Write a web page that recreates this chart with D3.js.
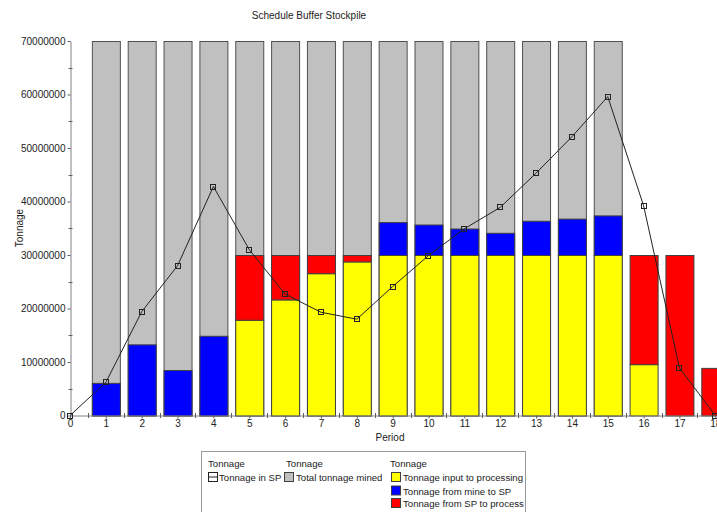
<!DOCTYPE html>
<html><head><meta charset="utf-8">
<script src="https://cdn.jsdelivr.net/npm/d3@7"></script>
<style>
html,body{margin:0;padding:0;background:#fff;overflow:hidden;}
text{font-family:"Liberation Sans",Arial,sans-serif;font-size:10px;fill:#222;}
</style></head>
<body>
<svg id="chart" width="717" height="512"></svg>
<script>
// ---- data ----
const periods = [0,1,2,3,4,5,6,7,8,9,10,11,12,13,14,15,16,17,18];
const barPeriods = [1,2,3,4,5,6,7,8,9,10,11,12,13,14,15,16,17,18];
const totalMined = [70e6,70e6,70e6,70e6,70e6,70e6,70e6,70e6,70e6,70e6,70e6,70e6,70e6,70e6,70e6,0,0,0];
const inputToProcessing = [0,0,0,0,17.9e6,21.7e6,26.6e6,28.8e6,30e6,30e6,30e6,30e6,30e6,30e6,30e6,9.6e6,0,0];
const mineToSP = [6.1e6,13.3e6,8.5e6,14.9e6,0,0,0,0,6.15e6,5.7e6,4.95e6,4.15e6,6.4e6,6.8e6,7.4e6,0,0,0];
const spToProcess = [0,0,0,0,12.1e6,8.3e6,3.4e6,1.2e6,0,0,0,0,0,0,0,20.4e6,30e6,8.9e6];
const tonnageInSP = [0,6.2e6,19.4e6,28.0e6,42.8e6,31.0e6,22.7e6,19.3e6,18.0e6,24.1e6,29.9e6,34.9e6,38.9e6,45.3e6,52.1e6,59.6e6,39.2e6,8.9e6,0];
const yTicks = [0,10e6,20e6,30e6,40e6,50e6,60e6,70e6];
const yMinorTicks = [5e6,15e6,25e6,35e6,45e6,55e6,65e6];

const svg = d3.select("#chart");
const x = d3.scaleLinear().domain([0,18]).range([70,715.3]);
const y = d3.scaleLinear().domain([0,70e6]).range([415.5,41]);
const bw = 28;

const rows = barPeriods.map((p,i)=>({period:p,total:totalMined[i],input:inputToProcessing[i],mine:mineToSP[i],sp:spToProcess[i]}));

// title
svg.append("text").attr("x",309).attr("y",19).attr("text-anchor","middle").text("Schedule Buffer Stockpile");

// gray total bars
svg.append("g").selectAll("rect").data(rows.filter(d=>d.total>0)).join("rect")
  .attr("x",d=>x(d.period)-bw/2+0.5).attr("width",bw)
  .attr("y",d=>y(d.total)+0.5).attr("height",d=>y(0)-y(d.total))
  .attr("fill","#c0c0c0").attr("stroke","#505050").attr("stroke-width",1);

// stacked bars
const keys = ["input","mine","sp"];
const colors = {input:"#ffff00",mine:"#0000ff",sp:"#ff0000"};
const stack = d3.stack().keys(keys)(rows);
stack.forEach(layer=>{
  svg.append("g").selectAll("rect").data(layer.filter(d=>d[1]-d[0]>0)).join("rect")
    .attr("x",d=>x(d.data.period)-bw/2+0.5).attr("width",bw)
    .attr("y",d=>y(d[1])+0.5).attr("height",d=>y(d[0])-y(d[1]))
    .attr("fill",colors[layer.key]).attr("stroke","#404040").attr("stroke-width",1);
});

// axes
const yAxis = d3.axisLeft(y).tickValues(yTicks).tickSize(3).tickSizeOuter(0).tickFormat(d3.format("d"));
const gy = svg.append("g").attr("transform","translate(70.5,0)").call(yAxis);
gy.select(".domain").attr("stroke","#808080");
gy.selectAll(".tick line").attr("stroke","#606060");
gy.selectAll("text").attr("font-size",10).attr("fill","#222").attr("dx",1);
svg.append("g").selectAll("line").data(yMinorTicks).join("line")
  .attr("x1",68.5).attr("x2",72.5).attr("y1",d=>Math.round(y(d))+0.5).attr("y2",d=>Math.round(y(d))+0.5)
  .attr("stroke","#606060");

const xAxis = d3.axisBottom(x).tickValues(periods).tickSize(3).tickSizeOuter(0).tickFormat(d3.format("d"));
const gx = svg.append("g").attr("transform","translate(0,415.5)").call(xAxis);
gx.select(".domain").attr("stroke","#808080");
gx.selectAll(".tick line").attr("stroke","#606060");
gx.selectAll("text").attr("font-size",10).attr("fill","#222").attr("dy","0.5em");
svg.append("g").selectAll("line").data(periods.slice(0,-1).map(p=>p+0.5)).join("line")
  .attr("x1",d=>Math.round(x(d))+0.5).attr("x2",d=>Math.round(x(d))+0.5).attr("y1",413).attr("y2",418)
  .attr("stroke","#606060");

// axis titles
svg.append("text").attr("transform","translate(23,228) rotate(-90)").attr("text-anchor","middle").text("Tonnage");
svg.append("text").attr("x",390).attr("y",441).attr("text-anchor","middle").text("Period");

// SP line
const line = d3.line().x((d,i)=>x(periods[i])).y(d=>y(d));
svg.append("path").datum(tonnageInSP).attr("d",line).attr("fill","none").attr("stroke","#222").attr("stroke-width",1);
svg.append("g").selectAll("rect").data(tonnageInSP).join("rect")
  .attr("x",(d,i)=>Math.round(x(periods[i]))-2.5).attr("y",d=>Math.round(y(d))-2.5)
  .attr("width",5).attr("height",5).attr("fill","none").attr("stroke","#222");

// legend
const lg = svg.append("g").style("font-size","9.6px");
lg.append("rect").attr("x",201.5).attr("y",451.5).attr("width",324).attr("height",70).attr("fill","#fff").attr("stroke","#999");
const heads = [208,286,390];
heads.forEach(hx=>lg.append("text").attr("x",hx).attr("y",467).style("font-size","9.6px").text("Tonnage"));
// line symbol
lg.append("rect").attr("x",208.5).attr("y",472.5).attr("width",9).attr("height",9).attr("fill","#fff").attr("stroke","#222");
lg.append("line").attr("x1",208.5).attr("x2",217.5).attr("y1",477).attr("y2",477).attr("stroke","#222");
lg.append("text").attr("x",219).attr("y",481).style("font-size","9.6px").text("Tonnage in SP");
const items = [
  {x:284,y:472,c:"#c0c0c0",t:"Total tonnage mined"},
  {x:391,y:472,c:"#ffff00",t:"Tonnage input to processing"},
  {x:391,y:485.5,c:"#0000ff",t:"Tonnage from mine to SP"},
  {x:391,y:498,c:"#ff0000",t:"Tonnage from SP to process"}
];
items.forEach(it=>{
  lg.append("rect").attr("x",it.x+0.5).attr("y",it.y+0.5).attr("width",9).attr("height",9).attr("fill",it.c).attr("stroke","#404040");
  lg.append("text").attr("x",it.x+12).attr("y",it.y+9).style("font-size","9.6px").text(it.t);
});
</script>
</body></html>
